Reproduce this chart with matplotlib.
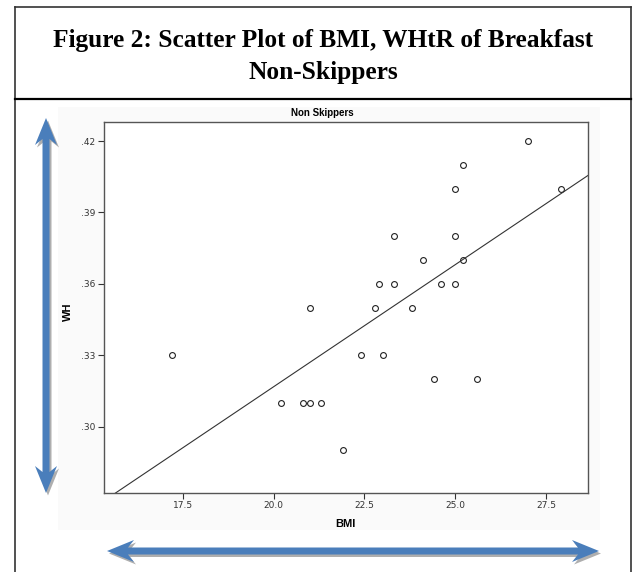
import numpy as np
import matplotlib
matplotlib.use("Agg")
from matplotlib import pyplot as plt
from matplotlib.patches import Polygon, Rectangle
from matplotlib.lines import Line2D

# data
bmi = [17.2, 20.2, 20.8, 21.0, 21.3, 21.0, 21.9, 22.4, 23.0, 22.8, 22.9, 23.3, 23.3,
       23.8, 24.1, 24.4, 24.6, 25.0, 25.0, 25.0, 25.2, 25.2, 25.6, 27.0, 27.9]
wh = [0.33, 0.31, 0.31, 0.31, 0.31, 0.35, 0.29, 0.33, 0.33, 0.35, 0.36, 0.36, 0.38,
      0.35, 0.37, 0.32, 0.36, 0.36, 0.38, 0.40, 0.41, 0.37, 0.32, 0.42, 0.40]
x_ticks = [17.5, 20.0, 22.5, 25.0, 27.5]
y_ticks = [0.30, 0.33, 0.36, 0.39, 0.42]
y_tick_labels = [".30", ".33", ".36", ".39", ".42"]

W, H = 633, 572
fig = plt.figure(figsize=(W / 100, H / 100), dpi=100)


def fx(px):
    return px / W


def fy(py):
    return 1 - py / H


# frame of the figure box
box_col = "#333333"
fig.add_artist(Line2D([fx(15), fx(15)], [fy(7), fy(572)], color=box_col, lw=1.2, transform=fig.transFigure))
fig.add_artist(Line2D([fx(631), fx(631)], [fy(7), fy(572)], color=box_col, lw=1.2, transform=fig.transFigure))
fig.add_artist(Line2D([fx(15), fx(631)], [fy(7), fy(7)], color=box_col, lw=1.2, transform=fig.transFigure))
fig.add_artist(Line2D([fx(15), fx(631)], [fy(99), fy(99)], color="black", lw=1.6, transform=fig.transFigure))

fig.text(fx(323), fy(47), "Figure 2: Scatter Plot of BMI, WHtR of Breakfast", ha="center", va="baseline",
         family="Liberation Serif", weight="bold", fontsize=18.3)
fig.text(fx(323), fy(79), "Non-Skippers", ha="center", va="baseline",
         family="Liberation Serif", weight="bold", fontsize=18.3)

# faint chart background
fig.add_artist(Rectangle((fx(58), fy(530)), fx(600) - fx(58), fy(107) - fy(530),
                         transform=fig.transFigure, facecolor="#fafafa", edgecolor="none", zorder=0))

ax = fig.add_axes([fx(103.5), fy(493), fx(588) - fx(103.5), fy(122) - fy(493)])
ax.set_xlim(15.32, 28.65)
ax.set_ylim(0.2721, 0.428)

ax.plot(bmi, wh, "o", mfc="none", mec="#222222", ms=4.2, mew=0.8)

k, b = np.polyfit(bmi, wh, 1)
xx = np.array(ax.get_xlim())
ax.plot(xx, k * xx + b, color="#333333", lw=0.8)

ax.set_xticks(x_ticks)
ax.set_xticklabels([f"{t:.1f}" for t in x_ticks])
ax.set_yticks(y_ticks)
ax.set_yticklabels(y_tick_labels)
ax.tick_params(labelsize=6.5, colors="#333333", length=4, width=0.8, pad=2)
for s in ax.spines.values():
    s.set_color("#555555")
    s.set_linewidth(1.0)

ax.set_xlabel("BMI", fontsize=8, weight="bold", family="Liberation Sans", labelpad=6)
fig.text(fx(68), fy(312), "WH", rotation=90, ha="center", va="center",
         fontsize=8, weight="bold", family="Liberation Sans")
fig.text(fx(322), fy(113), "Non Skippers", ha="center", va="center",
         fontsize=7, weight="bold", family="Liberation Sans")


def double_arrow(p0, p1, s=3.5, h=11, L=27, n=6):
    # polygon in pixel coords along p0 -> p1
    p0 = np.array(p0, float)
    p1 = np.array(p1, float)
    d = (p1 - p0) / np.linalg.norm(p1 - p0)
    nrm = np.array([-d[1], d[0]])
    pts = [p0, p0 + d * L + nrm * h, p0 + d * (L - n) + nrm * s,
           p1 - d * (L - n) + nrm * s, p1 - d * L + nrm * h, p1,
           p1 - d * L - nrm * h, p1 - d * (L - n) - nrm * s,
           p0 + d * (L - n) - nrm * s, p0 + d * L - nrm * h]
    return np.array(pts)


blue = "#4a7ebb"
for a, bpt in [((46, 118), (46, 493)), ((107, 551), (599, 551))]:
    pts = double_arrow(a, bpt)
    shadow = pts + np.array([2, 2.5])
    fig.add_artist(Polygon([(fx(x), fy(y)) for x, y in shadow], closed=True,
                           transform=fig.transFigure, facecolor="#9a9a9a", edgecolor="none", alpha=0.8))
    fig.add_artist(Polygon([(fx(x), fy(y)) for x, y in pts], closed=True,
                           transform=fig.transFigure, facecolor=blue, edgecolor="none"))

plt.savefig("out.png", dpi=100)
plt.close(fig)
